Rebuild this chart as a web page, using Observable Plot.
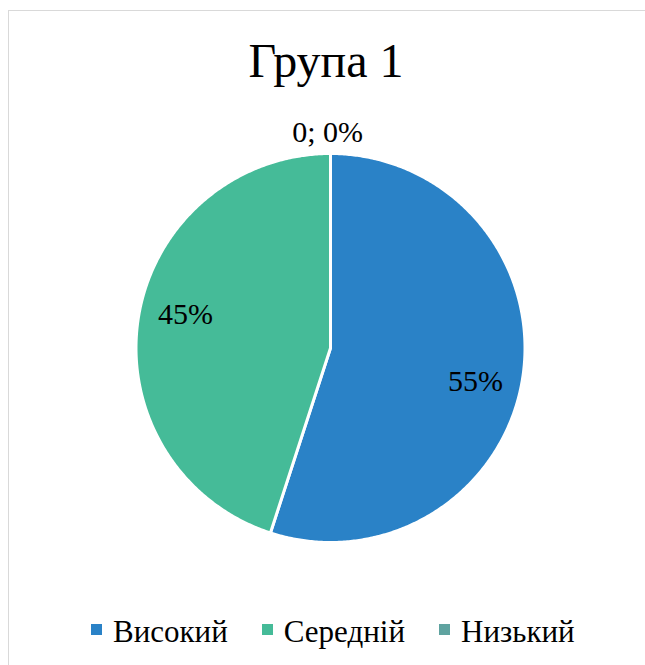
<!DOCTYPE html>
<html>
<head>
<meta charset="utf-8">
<script src="https://cdn.jsdelivr.net/npm/d3@7"></script>
<script src="https://cdn.jsdelivr.net/npm/@observablehq/plot@0.6"></script>
<style>
  html, body { margin: 0; padding: 0; background: #fff; overflow: hidden; width: 645px; height: 665px; }
  #frame { position: absolute; left: 8px; top: 10px; width: 700px; height: 700px; border: 1px solid #d9d9d9; box-sizing: border-box; }
  #title { position: absolute; left: 326px; top: 37px; transform: translateX(-50%); font-family: "Liberation Serif", "Times New Roman", serif; font-size: 48px; line-height: 48px; color: #000; white-space: nowrap; }
  #chart { position: absolute; left: 0; top: 100px; }
  #legend { position: absolute; left: 91px; top: 616px; display: flex; align-items: center; font-family: "Liberation Serif", "Times New Roman", serif; font-size: 31px; line-height: 31px; color: #000; white-space: nowrap; }
  .item { display: flex; align-items: center; margin-right: 34px; }
  .sw { width: 11px; height: 11px; margin-right: 11px; margin-bottom: 4px; }
</style>
</head>
<body>
<div id="frame"></div>
<div id="title"></div>
<div id="chart"></div>
<div id="legend"></div>
<script>
const title = "Група 1";
const categories = ["Високий", "Середній", "Низький"];
const values = [55, 45, 0];
const labels = ["55%", "45%", "0; 0%"];
const colors = ["#2a82c7", "#45bb98", "#5fa3a0"];

document.getElementById("title").textContent = title;

// Slices, angles clockwise from 12 o'clock
const total = d3.sum(values);
const slices = [];
let acc = 0;
categories.forEach((c, i) => {
  const a0 = acc / total * 2 * Math.PI;
  acc += values[i];
  const a1 = acc / total * 2 * Math.PI;
  slices.push({category: c, value: values[i], label: labels[i], a0, a1});
});

// Slice outlines in unit-circle data space
const polyPts = [];
for (const s of slices) {
  if (s.value <= 0) continue;
  polyPts.push({category: s.category, x: 0, y: 0});
  const n = Math.max(2, Math.ceil((s.a1 - s.a0) / (Math.PI / 360)));
  for (let k = 0; k <= n; k++) {
    const a = s.a0 + (s.a1 - s.a0) * k / n;
    polyPts.push({category: s.category, x: Math.sin(a), y: Math.cos(a)});
  }
}

// Label anchor points
const labelShift = 4 * Math.PI / 180;
const labelPts = slices.map(s => {
  const mid = (s.a0 + s.a1) / 2;
  if (s.value <= 0) {
    return {label: s.label, x: Math.sin(mid) - 0.015, y: Math.cos(mid) * 1.11};
  }
  const a = mid + labelShift;
  return {label: s.label, x: Math.sin(a) * 0.765, y: Math.cos(a) * 0.765};
});

const R = 194.5, cx = 330, cy = 247.5, W = 645, H = 495;
const chart = Plot.plot({
  width: W, height: H,
  marginLeft: cx - R, marginRight: W - (cx + R),
  marginTop: cy - R, marginBottom: H - (cy + R),
  x: {domain: [-1, 1], axis: null},
  y: {domain: [-1, 1], axis: null},
  color: {domain: categories, range: colors},
  style: {background: "transparent", overflow: "visible"},
  marks: [
    Plot.line(polyPts, {x: "x", y: "y", z: "category", fill: "category", stroke: "#fff", strokeWidth: 3, curve: "linear-closed", strokeLinejoin: "round"}),
    Plot.text(labelPts, {x: "x", y: "y", text: "label", fontSize: 30, fontFamily: "'Liberation Serif', 'Times New Roman', serif", fill: "#000", textAnchor: "middle", lineAnchor: "middle"})
  ]
});
document.getElementById("chart").appendChild(chart);

// Legend
const leg = document.getElementById("legend");
categories.forEach((c, i) => {
  const it = document.createElement("div");
  it.className = "item";
  const sw = document.createElement("div");
  sw.className = "sw";
  sw.style.background = colors[i];
  const tx = document.createElement("span");
  tx.textContent = c;
  it.appendChild(sw);
  it.appendChild(tx);
  leg.appendChild(it);
});
</script>
</body>
</html>
